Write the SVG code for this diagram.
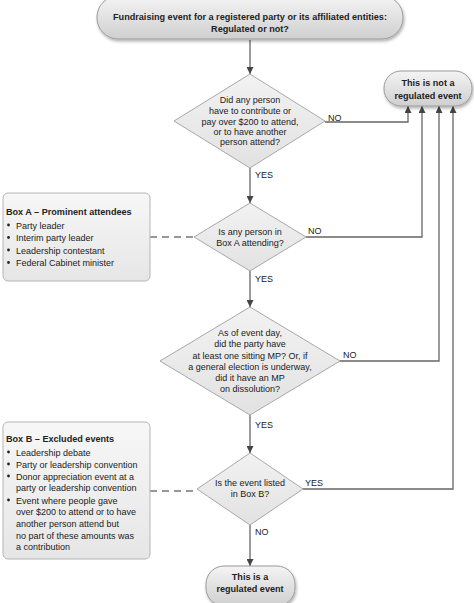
<svg xmlns="http://www.w3.org/2000/svg" width="474" height="603" viewBox="0 0 474 603">
<defs>
<linearGradient id="gTerm" x1="0" y1="0" x2="0" y2="1">
<stop offset="0" stop-color="#f4f4f4"/>
<stop offset="1" stop-color="#cfcfcf"/>
</linearGradient>
<linearGradient id="gBox" x1="0" y1="0" x2="0" y2="1">
<stop offset="0" stop-color="#f7f7f7"/>
<stop offset="1" stop-color="#e6e6e6"/>
</linearGradient>
<linearGradient id="gDia" x1="0" y1="0" x2="0" y2="1">
<stop offset="0" stop-color="#f2f2f2"/>
<stop offset="1" stop-color="#e2e2e2"/>
</linearGradient>
<filter id="sh" x="-10%" y="-20%" width="120%" height="150%">
<feDropShadow dx="1" dy="2" stdDeviation="1.5" flood-color="#000" flood-opacity="0.3"/>
</filter>
<marker id="arr" viewBox="0 0 10 10" refX="10" refY="5" markerWidth="7" markerHeight="7" orient="auto" markerUnits="userSpaceOnUse">
<path d="M0,0 L10,5 L0,10 z" fill="#444"/>
</marker>
</defs>
<style>
text{font-family:"Liberation Sans",Arial,sans-serif;fill:#222}
.b{font-weight:bold;font-size:9.1px}
.d{font-size:9px}
.t{font-size:9px}
.lab{font-size:9px}
.term{fill:url(#gTerm);stroke:#9a9a9a;stroke-width:1;filter:url(#sh)}
.box{fill:url(#gBox);stroke:#b5b5b5;stroke-width:1}
.dia{fill:url(#gDia);stroke:#a8a8a8;stroke-width:1}
.ln{fill:none;stroke:#666;stroke-width:1.3}
.ar{marker-end:url(#arr)}
.dash{fill:none;stroke:#777;stroke-width:1.5;stroke-dasharray:7,5}
</style>

<g id="connectors">
<path class="ln ar" d="M250,40 V74"/>
<path class="ln ar" d="M250,168 V203"/>
<path class="ln ar" d="M250,271 V307"/>
<path class="ln ar" d="M250,415 V453"/>
<path class="ln ar" d="M250,525 V566"/>
<path class="ln ar" d="M325,122 H408 V106"/>
<path class="ln ar" d="M306,237 H422 V106"/>
<path class="ln ar" d="M340,361 H439 V106"/>
<path class="ln ar" d="M303,489 H453 V106"/>
<path class="dash" d="M150,237 H194"/>
<path class="dash" d="M150,491 H198"/>
<text class="lab" x="328" y="121">NO</text>
<text class="lab" x="255" y="178">YES</text>
<text class="lab" x="308" y="234">NO</text>
<text class="lab" x="255" y="282">YES</text>
<text class="lab" x="343" y="358">NO</text>
<text class="lab" x="255" y="428">YES</text>
<text class="lab" x="305" y="486">YES</text>
<text class="lab" x="255" y="535">NO</text>
</g>

<g id="start">
<rect class="term" x="97" y="-4" width="306" height="43" rx="21"/>
<text class="b" x="250" y="20" text-anchor="middle">Fundraising event for a registered party or its affiliated entities:</text>
<text class="b" x="250" y="32" text-anchor="middle">Regulated or not?</text>
</g>

<g id="not-regulated">
<rect class="term" x="384" y="71" width="88" height="35" rx="17"/>
<text class="b" x="428" y="86" text-anchor="middle">This is not a</text>
<text class="b" x="428" y="98.5" text-anchor="middle">regulated event</text>
</g>

<g id="q1">
<polygon class="dia" points="250,74 325,121 250,168 174,121"/>
<text class="d" text-anchor="middle" x="250" y="103">Did any person</text>
<text class="d" text-anchor="middle" x="250" y="114">have to contribute or</text>
<text class="d" text-anchor="middle" x="250" y="124.5">pay over $200 to attend,</text>
<text class="d" text-anchor="middle" x="250" y="135">or to have another</text>
<text class="d" text-anchor="middle" x="250" y="145">person attend?</text>
</g>

<g id="boxA">
<rect class="box" x="3" y="193" width="147" height="88" rx="5"/>
<text class="b" x="6" y="214.5">Box A – Prominent attendees</text>
<circle cx="8.5" cy="225" r="1.4" fill="#222"/><text class="t" x="16" y="228.5">Party leader</text>
<circle cx="8.5" cy="237.5" r="1.4" fill="#222"/><text class="t" x="16" y="241">Interim party leader</text>
<circle cx="8.5" cy="250" r="1.4" fill="#222"/><text class="t" x="16" y="253.5">Leadership contestant</text>
<circle cx="8.5" cy="262.5" r="1.4" fill="#222"/><text class="t" x="16" y="266">Federal Cabinet minister</text>
</g>

<g id="q2">
<polygon class="dia" points="250,203 306,237 250,271 194,237"/>
<text class="d" text-anchor="middle" x="250" y="235">Is any person in</text>
<text class="d" text-anchor="middle" x="250" y="246">Box A attending?</text>
</g>

<g id="q3">
<polygon class="dia" points="250,307 340,361 250,415 160,361"/>
<text class="d" text-anchor="middle" x="250" y="336">As of event day,</text>
<text class="d" text-anchor="middle" x="250" y="347">did the party have</text>
<text class="d" text-anchor="middle" x="250" y="359">at least one sitting MP? Or, if</text>
<text class="d" text-anchor="middle" x="250" y="370">a general election is underway,</text>
<text class="d" text-anchor="middle" x="250" y="381">did it have an MP</text>
<text class="d" text-anchor="middle" x="250" y="392">on dissolution?</text>
</g>

<g id="boxB">
<rect class="box" x="3" y="422" width="147" height="137" rx="5"/>
<text class="b" x="6" y="442">Box B – Excluded events</text>
<circle cx="8.5" cy="452" r="1.4" fill="#222"/><text class="t" x="16" y="455.5">Leadership debate</text>
<circle cx="8.5" cy="464" r="1.4" fill="#222"/><text class="t" x="16" y="467.5">Party or leadership convention</text>
<circle cx="8.5" cy="476" r="1.4" fill="#222"/><text class="t" x="16" y="479.5">Donor appreciation event at a</text>
<text class="t" x="16" y="491">party or leadership convention</text>
<circle cx="8.5" cy="500" r="1.4" fill="#222"/><text class="t" x="16" y="503.5">Event where people gave</text>
<text class="t" x="16" y="515">over $200 to attend or to have</text>
<text class="t" x="16" y="527">another person attend but</text>
<text class="t" x="16" y="538.5">no part of these amounts was</text>
<text class="t" x="16" y="550">a contribution</text>
</g>

<g id="q4">
<polygon class="dia" points="250,453 303,489 250,525 197,489"/>
<text class="d" text-anchor="middle" x="250" y="486">Is the event listed</text>
<text class="d" text-anchor="middle" x="250" y="497">in Box B?</text>
</g>

<g id="regulated">
<rect class="term" x="206" y="566" width="89" height="40" rx="18"/>
<text class="b" x="250" y="580" text-anchor="middle">This is a</text>
<text class="b" x="250" y="592" text-anchor="middle">regulated event</text>
</g>
</svg>
